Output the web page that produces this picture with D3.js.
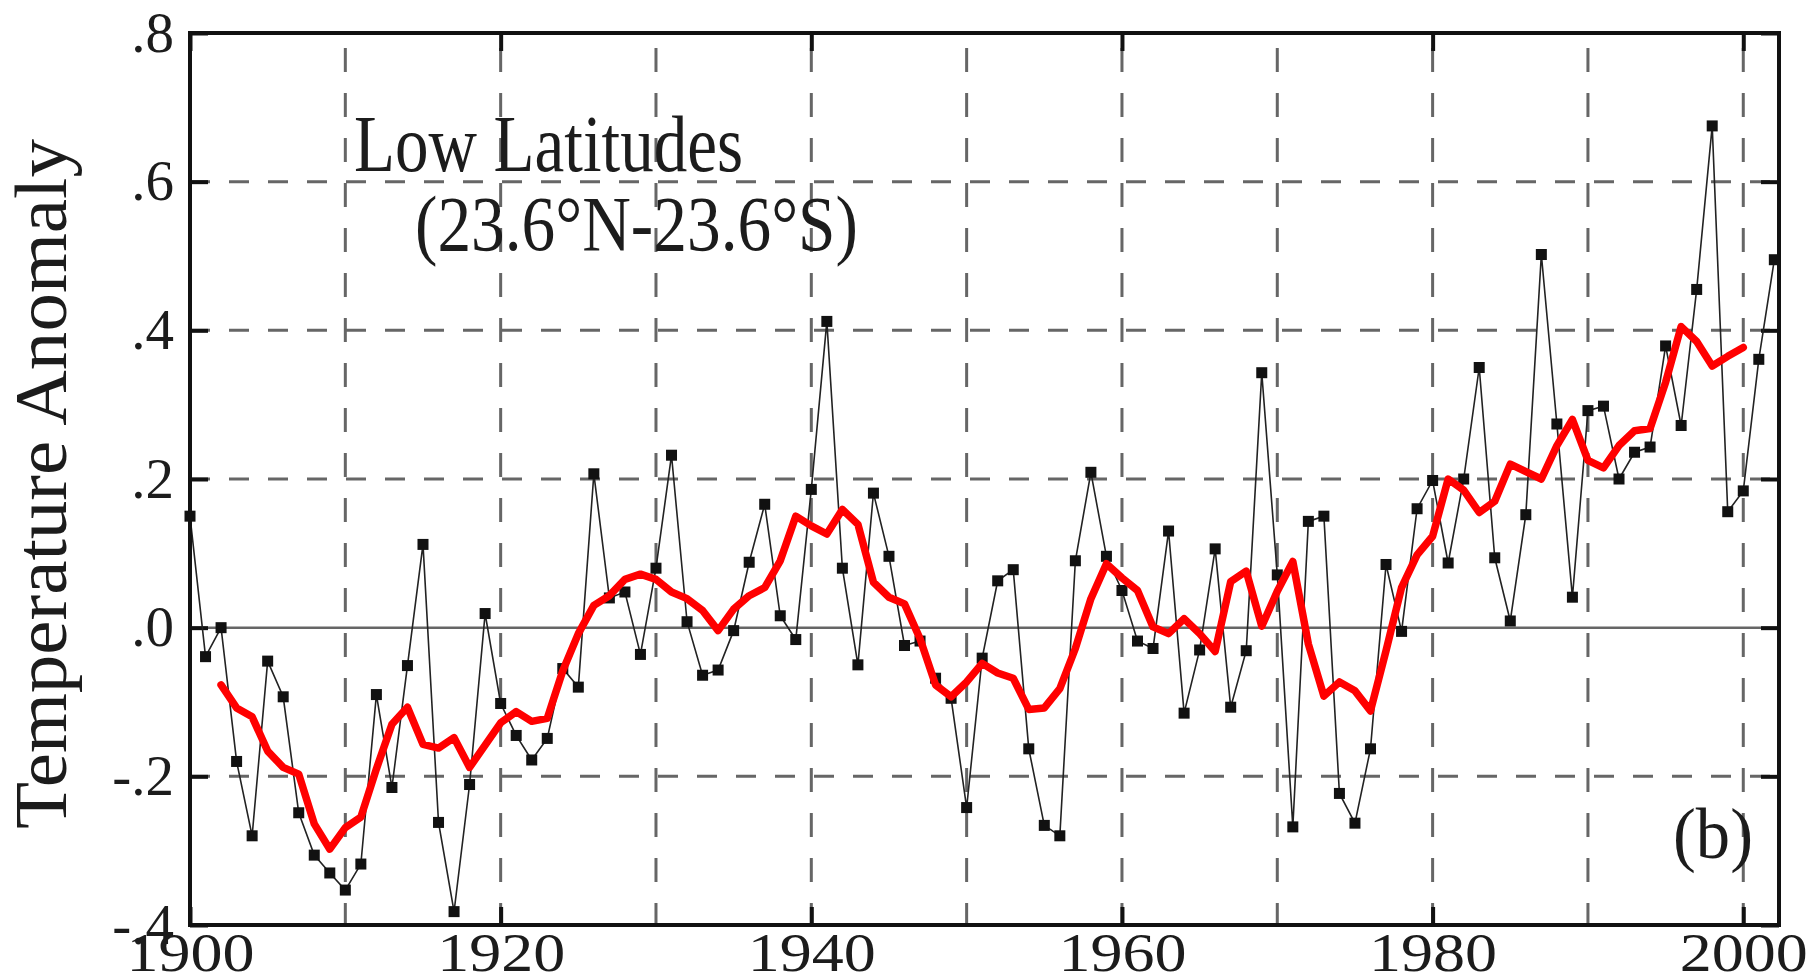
<!DOCTYPE html>
<meta charset="utf-8">
<style>

body {
  margin: 0;
  background: #fff;
}

text {
  font-family: "Liberation Serif", "Times New Roman", serif;
  fill: #1c1c1c;
}

.grid {
  fill: none;
  stroke: #666;
  stroke-width: 3px;
}

.frame {
  fill: none;
  stroke: #111;
  stroke-width: 4px;
}

.anom {
  fill: none;
  stroke: #222;
  stroke-width: 1.6px;
}

.smooth {
  fill: none;
  stroke: #ff0000;
  stroke-width: 7.5px;
  stroke-linejoin: round;
  stroke-linecap: round;
}

</style>
<svg width="1818" height="979"></svg>
<script src="https://d3js.org/d3.v7.min.js"></script>
<script>

// annual anomalies, 1900-2002
var firstYear = 1900;
var anomaly = [
   0.150, -0.039,  0.000, -0.180, -0.280, -0.045, -0.093, -0.249, -0.306, -0.330,
  -0.353, -0.318, -0.090, -0.215, -0.051,  0.112, -0.262, -0.382, -0.211,  0.019,
  -0.102, -0.145, -0.178, -0.149, -0.055, -0.080,  0.207,  0.040,  0.048, -0.036,
   0.080,  0.232,  0.008, -0.064, -0.057, -0.004,  0.088,  0.166,  0.016, -0.016,
   0.186,  0.412,  0.080, -0.050,  0.181,  0.096, -0.024, -0.018, -0.068, -0.095,
  -0.242, -0.041,  0.063,  0.078, -0.163, -0.266, -0.280,  0.090,  0.209,  0.096,
   0.050, -0.018, -0.028,  0.130, -0.115, -0.030,  0.106, -0.107, -0.031,  0.343,
   0.071, -0.268,  0.143,  0.150, -0.223, -0.263, -0.163,  0.085, -0.005,  0.160,
   0.198,  0.087,  0.200,  0.350,  0.094,  0.009,  0.152,  0.502,  0.274,  0.041,
   0.292,  0.298,  0.200,  0.236,  0.243,  0.379,  0.272,  0.455,  0.675,  0.156,
   0.184,  0.361,  0.495
];

// smoothed curve (red), 1902-2000
var smoothStart = 1902;
var smoothed = [
  -0.077, -0.108, -0.120, -0.166, -0.188, -0.197, -0.264, -0.298,
  -0.269, -0.255, -0.190, -0.130, -0.107, -0.157, -0.162, -0.148, -0.188, -0.158,
  -0.128, -0.113, -0.126, -0.122, -0.058, -0.008,  0.030,  0.043,  0.065,  0.072,
   0.065,  0.048,  0.039,  0.023, -0.004,  0.025,  0.043,  0.054,  0.090,  0.150,
   0.137,  0.126,  0.159,  0.139,  0.061,  0.041,  0.032, -0.015, -0.077, -0.093,
  -0.073, -0.048, -0.061, -0.068, -0.110, -0.108, -0.082, -0.028,  0.039,  0.086,
   0.067,  0.050,  0.001, -0.008,  0.012, -0.008, -0.032,  0.062,  0.076,  0.002,
   0.049,  0.089, -0.022, -0.092, -0.073, -0.085, -0.112, -0.031,  0.054,  0.098,
   0.123,  0.200,  0.185,  0.155,  0.170,  0.220,  0.210,  0.200,  0.245,  0.280,
   0.225,  0.215,  0.245,  0.265,  0.268,  0.330,  0.405,  0.385,  0.352,  0.365,
   0.377
];

var yTicks = [-0.4, -0.2, 0, 0.2, 0.4, 0.6, 0.8];
var yGrid = [-0.2, 0.2, 0.4, 0.6];
var xGrid = [1910, 1920, 1930, 1940, 1950, 1960, 1970, 1980, 1990, 2000];
var xLabels = [1900, 1920, 1940, 1960, 1980, 2000];

var svg = d3.select("svg");

// plot box (note: "top" is taken by window.top)
var box = {left: 190, right: 1779, top: 33, bottom: 925};

var x = d3.scaleLinear().domain([1900, 2002.3]).range([box.left, box.right]);
var y = d3.scaleLinear().domain([-0.4, 0.8]).range([box.bottom, box.top]);

var yFmt = function(d) {
  var s = "." + Math.round(Math.abs(d) * 10);
  return d < 0 ? "-" + s : s;
};

// dashed grid
svg.append("g").selectAll("line")
  .data(xGrid)
  .enter().append("line")
    .attr("class", "grid")
    .attr("x1", x).attr("x2", x)
    .attr("y1", box.top).attr("y2", box.bottom)
    .attr("stroke-dasharray", "24,21")
    .attr("stroke-dashoffset", 30);

svg.append("g").selectAll("line")
  .data(yGrid)
  .enter().append("line")
    .attr("class", "grid")
    .attr("x1", box.left).attr("x2", box.right)
    .attr("y1", y).attr("y2", y)
    .attr("stroke-dasharray", "20,19");

// zero line
svg.append("line")
    .attr("x1", box.left).attr("x2", box.right)
    .attr("y1", y(0)).attr("y2", y(0))
    .style("stroke", "#666")
    .style("stroke-width", "2.5px");

// axes, ticks point inwards
function styleAxis(g) {
  g.select(".domain").remove();
  g.selectAll(".tick line").style("stroke", "#111").style("stroke-width", "4px");
}

svg.append("g")
    .attr("transform", "translate(" + box.left + ",0)")
    .call(d3.axisLeft(y).tickValues(yTicks).tickSizeInner(-18).tickSizeOuter(0)
      .tickPadding(16).tickFormat(yFmt))
    .call(styleAxis)
    .selectAll("text")
      .style("font-size", "57px");

svg.append("g")
    .attr("transform", "translate(" + box.right + ",0)")
    .call(d3.axisRight(y).tickValues(yTicks).tickSizeInner(-18).tickSizeOuter(0)
      .tickFormat(""))
    .call(styleAxis);

svg.append("g")
    .attr("transform", "translate(0," + box.bottom + ")")
    .call(d3.axisBottom(x).tickValues(xLabels).tickSizeInner(-18).tickSizeOuter(0)
      .tickFormat(d3.format("d")))
    .call(styleAxis)
    .selectAll("text")
      .attr("y", 46)
      .attr("dy", 0)
      .attr("textLength", 128)
      .attr("lengthAdjust", "spacingAndGlyphs")
      .style("font-size", "54px");

svg.append("g")
    .attr("transform", "translate(0," + box.top + ")")
    .call(d3.axisTop(x).tickValues(xLabels).tickSizeInner(-18).tickSizeOuter(0)
      .tickFormat(""))
    .call(styleAxis);

// annual series
var line = d3.line()
    .x(function(d, i) { return x(firstYear + i); })
    .y(function(d) { return y(d); });

svg.append("path")
    .datum(anomaly)
    .attr("class", "anom")
    .attr("d", line);

svg.append("g").selectAll("rect")
  .data(anomaly)
  .enter().append("rect")
    .attr("x", function(d, i) { return x(firstYear + i) - 5.5; })
    .attr("y", function(d) { return y(d) - 5.5; })
    .attr("width", 11)
    .attr("height", 11)
    .style("fill", "#111");

// smoothed series
var smoothLine = d3.line()
    .x(function(d, i) { return x(smoothStart + i); })
    .y(function(d) { return y(d); });

svg.append("path")
    .datum(smoothed)
    .attr("class", "smooth")
    .attr("d", smoothLine);

// frame
svg.append("rect")
    .attr("class", "frame")
    .attr("x", box.left)
    .attr("y", box.top)
    .attr("width", box.right - box.left)
    .attr("height", box.bottom - box.top);

// labels
svg.append("text")
    .attr("x", 354)
    .attr("y", 171)
    .attr("textLength", 389)
    .attr("lengthAdjust", "spacingAndGlyphs")
    .style("font-size", "80px")
    .text("Low Latitudes");

svg.append("text")
    .attr("x", 415)
    .attr("y", 250)
    .attr("textLength", 443)
    .attr("lengthAdjust", "spacingAndGlyphs")
    .style("font-size", "78px")
    .text("(23.6°N-23.6°S)");

svg.append("text")
    .attr("x", 1673)
    .attr("y", 858)
    .attr("textLength", 80)
    .attr("lengthAdjust", "spacingAndGlyphs")
    .style("font-size", "71px")
    .text("(b)");

svg.append("text")
    .attr("transform", "translate(66,484) rotate(-90)")
    .attr("text-anchor", "middle")
    .attr("textLength", 690)
    .attr("lengthAdjust", "spacingAndGlyphs")
    .style("font-size", "74px")
    .text("Temperature Anomaly");

</script>
